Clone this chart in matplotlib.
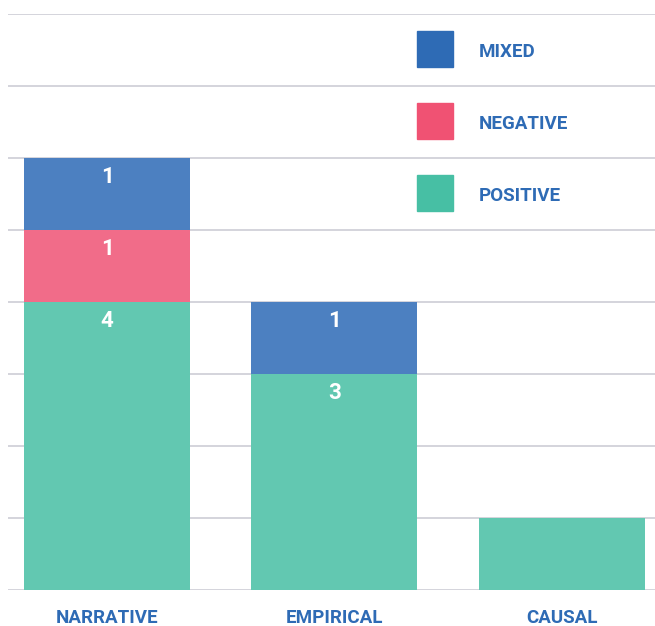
import matplotlib.pyplot as plt
from matplotlib.patches import Rectangle

# data
categories = ['NARRATIVE', 'EMPIRICAL', 'CAUSAL']
positive = [4, 3, 1]
negative = [1, 0, 0]
mixed = [1, 1, 0]
show_values = [True, True, False]
legend_labels = ['MIXED', 'NEGATIVE', 'POSITIVE']

# colours
c_pos, c_neg, c_mix = '#62C8B1', '#F16C89', '#4C80C1'
legend_cols = ['#2E6BB5', '#F05273', '#47BFA4']
text_blue = '#2E6BB5'
grid_col = '#CDCDD5'

plt.rcParams['font.family'] = ['Roboto', 'DejaVu Sans']

fig = plt.figure(figsize=(6.55, 6.26), dpi=100)
ax = fig.add_axes([8 / 655, 1 - 590 / 626, 647 / 655, 576 / 626])

x = list(range(len(categories)))
w = 0.73

bottoms_neg = positive
bottoms_mix = [p + n for p, n in zip(positive, negative)]

ax.bar(x, positive, width=w, color=c_pos, zorder=3)
ax.bar(x, negative, width=w, bottom=bottoms_neg, color=c_neg, zorder=3)
ax.bar(x, mixed, width=w, bottom=bottoms_mix, color=c_mix, zorder=3)

# value labels near top of each segment
for i in x:
    if not show_values[i]:
        continue
    base = 0
    for v in [positive[i], negative[i], mixed[i]]:
        if v > 0:
            ax.text(i, base + v - 0.27, str(v), ha='center', va='center',
                    color='white', fontsize=16, fontweight='bold', zorder=4)
        base += v

ax.set_xlim(-0.436, 2.41)
ax.set_ylim(0, 8)
ax.set_yticks(range(0, 9))
ax.yaxis.grid(True, color=grid_col, linewidth=1.2, zorder=0)
ax.tick_params(axis='y', left=False, labelleft=False)
ax.tick_params(axis='x', bottom=False, pad=10)
ax.set_xticks(x)
ax.set_xticklabels(categories, color=text_blue, fontsize=13.5, fontweight='bold')
for s in ax.spines.values():
    s.set_visible(False)

# legend: squares on the top right, one unit apart
sq_w = 36 / 647
sq_h = 36 / 576
for k, (lab, col) in enumerate(zip(legend_labels, legend_cols)):
    y_top = (559 - 72 * k) / 576
    ax.add_patch(Rectangle((409 / 647, y_top - sq_h), sq_w, sq_h, color=col,
                           transform=ax.transAxes, zorder=5, clip_on=False))
    ax.text(471 / 647, y_top - sq_h / 2 - 3 / 576, lab, transform=ax.transAxes,
            ha='left', va='center', color=text_blue, fontsize=13.5,
            fontweight='bold', zorder=5)

fig.savefig('out.png', dpi=100)
